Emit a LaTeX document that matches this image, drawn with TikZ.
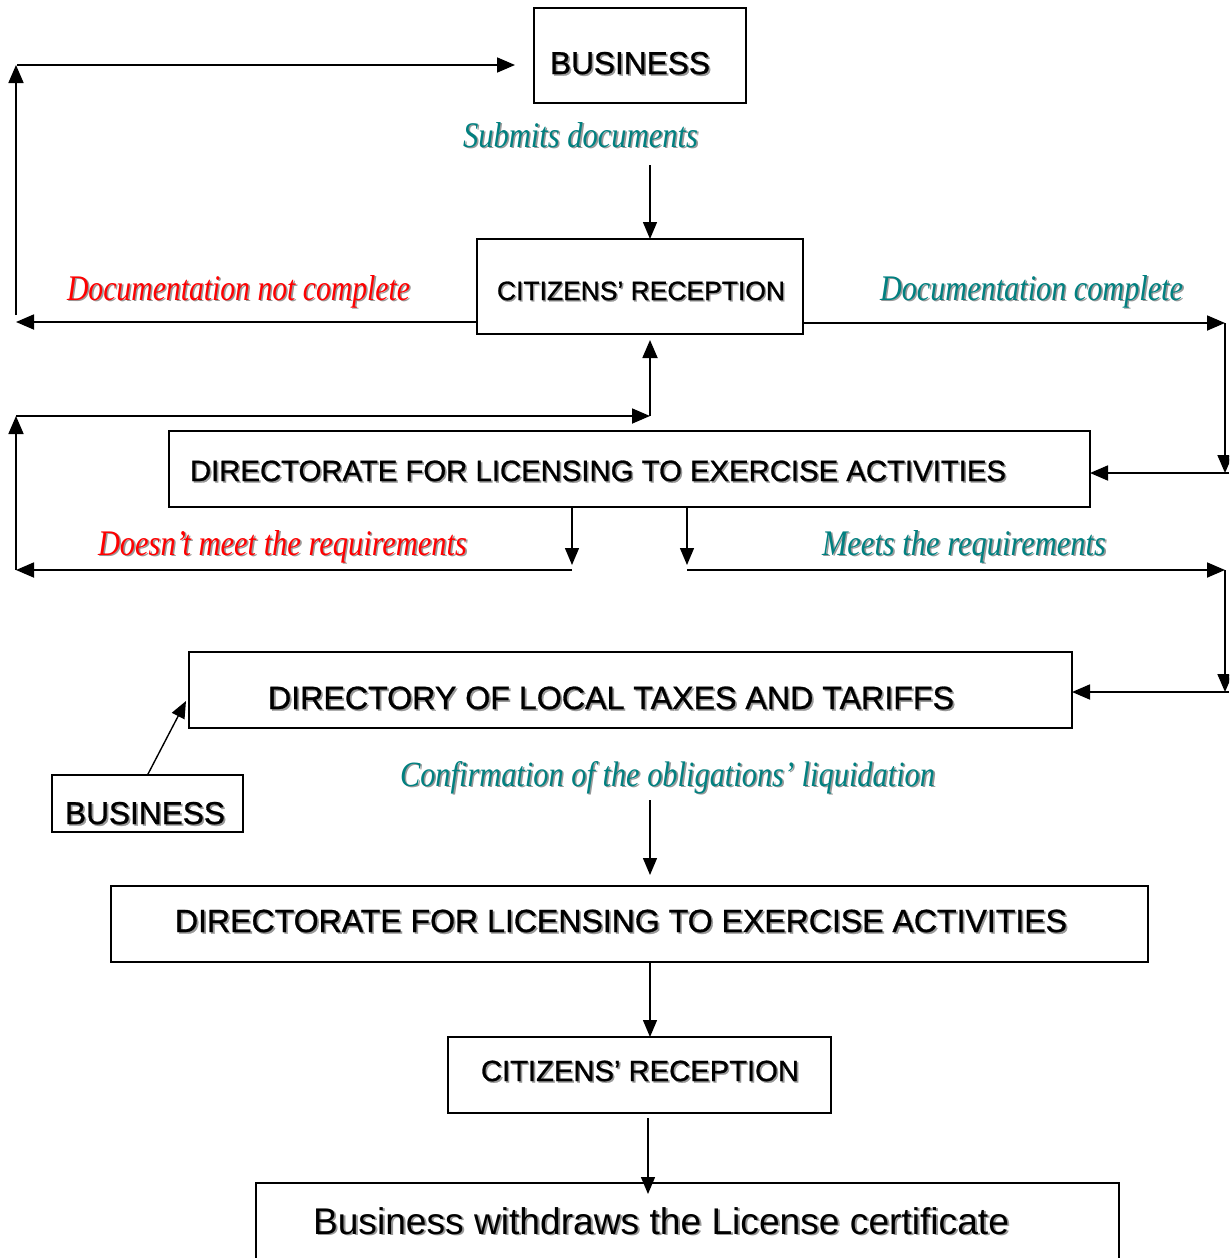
\documentclass[tikz,border=0pt]{standalone}
\usepackage{fontspec}
\setmainfont{Liberation Serif}
\setsansfont{Liberation Sans}[FakeBold=0.9]
\newfontfamily\plainsans{Liberation Sans}
\usepackage{graphicx}
\usetikzlibrary{arrows.meta}
\definecolor{tealc}{RGB}{0,128,128}
\definecolor{redc}{RGB}{255,0,0}
\newcommand\shad[1]{\makebox[0pt][l]{\hspace*{1.6pt}\raisebox{-1.6pt}{\color{black!40}#1}}#1}
\newcommand\boxtxt[2]{\resizebox{#1pt}{!}{\sffamily\fontsize{30}{36}\selectfont\shad{#2}}}
\newcommand\plaintxt[2]{\resizebox{#1pt}{!}{\plainsans\fontsize{30}{36}\selectfont\shad{#2}}}
\newcommand\labtxt[3]{\resizebox{#1pt}{#2pt}{\itshape\fontsize{30}{36}\selectfont\shad{#3}}}
\begin{document}
\begin{tikzpicture}[x=1pt,y=-1pt,
  boxn/.style={draw, line width=1.8pt, inner sep=0pt, outer sep=0pt, anchor=north west},
  txtn/.style={inner sep=0pt, outer sep=0pt, anchor=base west},
  labn/.style={inner sep=0pt, outer sep=0pt, anchor=base west},
  arr/.style={-{Triangle[length=18pt,width=15pt]}, line width=1.8pt},
  arrthin/.style={-{Triangle[length=17pt,width=14pt]}, line width=1.4pt}]
\fill[white] (0,0) rectangle (1229,1258);
\clip (0,0) rectangle (1229,1258);

% boxes
\node[boxn, minimum width=212pt, minimum height=95pt] (b1) at (534,8) {};
\node[boxn, minimum width=326pt, minimum height=95pt] (c1) at (477,239) {};
\node[boxn, minimum width=921pt, minimum height=76pt] (d1) at (169,431) {};
\node[boxn, minimum width=883pt, minimum height=76pt] (t1) at (189,652) {};
\node[boxn, minimum width=191pt, minimum height=57pt] (b2) at (52,775) {};
\node[boxn, minimum width=1037pt, minimum height=76pt] (d2) at (111,886) {};
\node[boxn, minimum width=383pt, minimum height=76pt] (c2) at (448,1037) {};
\node[boxn, minimum width=863pt, minimum height=120pt] (w) at (256,1183) {};

% box texts
\node[txtn] (b1t) at (550,74) {\boxtxt{160}{BUSINESS}};
\node[txtn] (c1t) at (497,300) {\boxtxt{288}{CITIZENS’ RECEPTION}};
\node[txtn] (d1t) at (190,481) {\boxtxt{816}{DIRECTORATE FOR LICENSING TO EXERCISE ACTIVITIES}};
\node[txtn] (t1t) at (268,709) {\boxtxt{686}{DIRECTORY OF LOCAL TAXES AND TARIFFS}};
\node[txtn] (b2t) at (65,824) {\boxtxt{160}{BUSINESS}};
\node[txtn] (d2t) at (175,932) {\boxtxt{892}{DIRECTORATE FOR LICENSING TO EXERCISE ACTIVITIES}};
\node[txtn] (c2t) at (481,1081) {\boxtxt{318}{CITIZENS’ RECEPTION}};
\node[txtn] (wt) at (313,1234) {\plaintxt{696}{Business withdraws the License certificate}};

% labels
\node[labn, text=tealc] (l1) at (463,147) {\labtxt{235}{25}{Submits documents}};
\node[labn, text=redc] (l2) at (67,300) {\labtxt{343}{25}{Documentation not complete}};
\node[labn, text=tealc] (l3) at (880,300) {\labtxt{303}{25}{Documentation complete}};
\node[labn, text=redc] (l4) at (98,555) {\labtxt{369}{25}{Doesn’t meet the requirements}};
\node[labn, text=tealc] (l5) at (822,555) {\labtxt{284}{25}{Meets the requirements}};
\node[labn, text=tealc] (l6) at (400,786) {\labtxt{535}{25}{Confirmation of the obligations’ liquidation}};

% coordinates
\coordinate (L1) at (16,322);
\coordinate (L1u) at (16,315);
\coordinate (LT) at (16,65);
\coordinate (LTs) at (17,65);
\coordinate (BT) at (515,65);
\coordinate (S0) at (650,165);
\coordinate (R1) at (1225,323);
\coordinate (R2) at (1225,473);
\coordinate (R3) at (1229,473);
\coordinate (U) at (650,416);
\coordinate (UL) at (16,416);
\coordinate (DL) at (572,565);
\coordinate (DR) at (687,565);
\coordinate (BL) at (572,570);
\coordinate (BLL) at (16,570);
\coordinate (BR) at (687,570);
\coordinate (BRR) at (1225,570);
\coordinate (BRD) at (1225,692);
\coordinate (BRE) at (1229,692);
\coordinate (B2T) at (186,701);
\coordinate (C0) at (650,800);
\coordinate (W0) at (648,1118);
\coordinate (W1) at (648,1194);

% connectors
\draw[arr] (L1 -| c1.west) -- (L1);
\draw[arr] (L1u) -- (LT);
\draw[arr] (LTs) -- (BT);
\draw[arrthin] (S0) -- (S0 |- c1.north);
\draw[arr] (R1 -| c1.east) -- (R1);
\draw[arr] (R1) -- (R2);
\draw[arr] (R3) -- (R3 -| d1.east);
\draw[arr] (U) -- ([yshift=-6pt]U |- c1.south);
\draw[arr] (UL) -- (U);
\draw[arr] (BLL) -- (UL);
\draw[arr] (BL) -- (BLL);
\draw[arrthin] (DL |- d1.south) -- (DL);
\draw[arrthin] (DR |- d1.south) -- (DR);
\draw[arr] (BR) -- (BRR);
\draw[arr] (BRR) -- (BRD);
\draw[arr] (BRE) -- (BRE -| t1.east);
\draw[arrthin] (b2.north) -- (B2T);
\draw[arrthin] (C0) -- ([yshift=11pt]C0 |- d2.north);
\draw[arrthin] (C0 |- d2.south) -- (C0 |- c2.north);
\draw[arrthin] (W0) -- (W1);
\end{tikzpicture}
\end{document}
